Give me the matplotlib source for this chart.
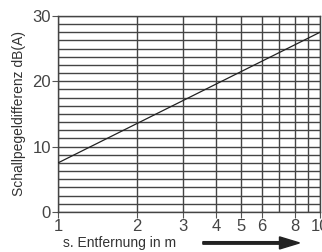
import numpy as np
import matplotlib.pyplot as plt
from matplotlib.patches import FancyArrow

plt.rcParams["font.family"] = ["Liberation Sans", "DejaVu Sans"]

# Data
distance = [1, 10]
level_diff = [7.5, 27.5]
x_ticks = [1, 2, 3, 4, 5, 6, 8, 10]
y_ticks = [0, 10, 20, 30]

fig = plt.figure(figsize=(3.22, 2.52), dpi=100)
ax = fig.add_axes([0.180, 0.159, 0.814, 0.778])

ax.set_xscale("log")
ax.set_xlim(1, 10)
ax.set_ylim(0, 30)

# grid lines
for xv in range(1, 11):
    ax.axvline(xv, color="#444444", linewidth=1.0, zorder=1)
for yv in np.arange(0, 30.01, 1.25):
    ax.axhline(yv, color="#444444", linewidth=1.0, zorder=1)

ax.plot(distance, level_diff, color="#222222", linewidth=0.9, zorder=3)

ax.set_xticks(x_ticks)
ax.set_xticklabels([str(t) for t in x_ticks])
ax.xaxis.set_minor_locator(plt.NullLocator())
ax.set_yticks(y_ticks)
ax.tick_params(axis="both", labelsize=12, colors="#555555", length=4, width=0.8,
               labelcolor="#444444")
ax.tick_params(axis="x", pad=1)
ax.tick_params(axis="y", pad=1)

for s in ax.spines.values():
    s.set_color("#444444")
    s.set_linewidth(1.0)

fig.text(0.059, 0.55, "Schallpegeldifferenz dB(A)", fontsize=10, color="#333333",
         rotation=90, ha="center", va="center")

fig.text(0.195, 0.036, "s. Entfernung in m", fontsize=10, color="#333333",
         ha="left", va="center")
fig.patches.append(FancyArrow(
    0.63, 0.036, 0.30, 0, width=0.01, head_width=0.048, head_length=0.062,
    length_includes_head=True, color="#222222", transform=fig.transFigure))

fig.savefig("out.png", dpi=100)
